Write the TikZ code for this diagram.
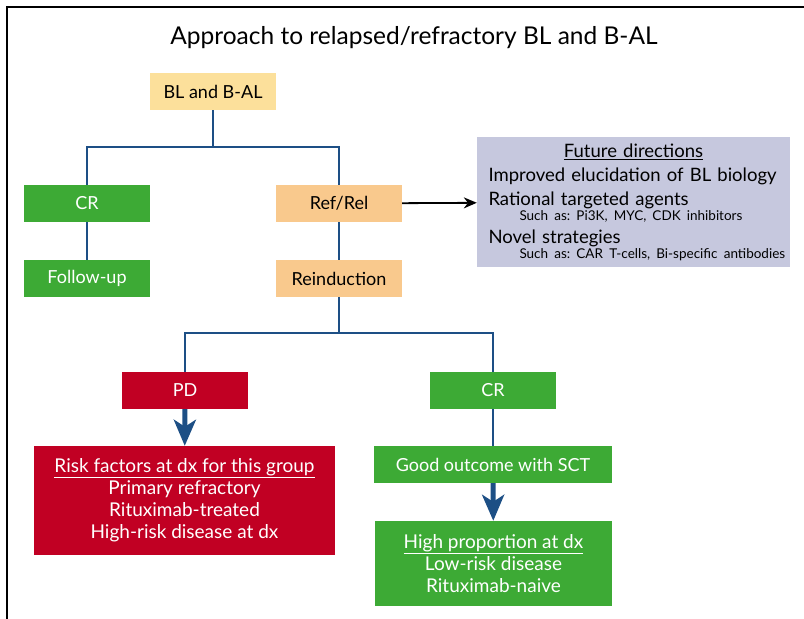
\documentclass[tikz,border=0pt]{standalone}
\usepackage{fontspec}
\setmainfont{Lato}
\usetikzlibrary{arrows.meta,positioning,calc}

\definecolor{startyellow}{HTML}{FCE09B}
\definecolor{relorange}{HTML}{F9C98D}
\definecolor{crgreen}{HTML}{3DAA35}
\definecolor{pdred}{HTML}{C10023}
\definecolor{futurelilac}{HTML}{C6C8DE}
\definecolor{linkblue}{HTML}{1D4F85}

\begin{document}
\frenchspacing
\begin{tikzpicture}[x=1pt, y=-1pt, >=Stealth,
    box/.style={rectangle, minimum height=37pt, minimum width=126pt, inner sep=0pt, font=\fontsize{18}{21}\selectfont},
    link/.style={draw=linkblue, line width=2.2pt},
    bigarrow/.style={draw=linkblue, line width=5pt, -{Stealth[length=26pt, width=22pt, inset=7pt]}}]
        \useasboundingbox (0,0) rectangle (804,619);
        % Frame and title
        \draw[line width=2pt] (7,619) -- (7,7) -- (804,7);
        \node (title) at (414,38) {\fontsize{24.5}{28}\selectfont Approach to relapsed/refractory BL and B-AL};

        % Nodes
        \node (start) [box, fill=startyellow] at (213,91.5) {BL and B-AL};
        \node (cr) [box, fill=crgreen, text=white] at (87,203.5) {CR};
        \node (followup) [box, fill=crgreen, text=white] at (87,278.5) {Follow-up};
        \node (refrel) [box, fill=relorange] at (339,203.5) {Ref/Rel};
        \node (reinduction) [box, fill=relorange] at (339,278.5) {Reinduction};
        \node (future) [rectangle, fill=futurelilac, minimum width=313pt, minimum height=130pt, text width=290pt, inner sep=0pt, align=left, font=\fontsize{18.5}{24}\selectfont] at (633.5,202)
            {\makebox[290pt]{\underline{Future directions}}\\
             Improved elucidation of BL biology\\
             Rational targeted agents\\[-9pt]
             \hspace*{31pt}\mbox{\fontsize{13.5}{15}\selectfont Such as: Pi3K, MYC, CDK inhibitors}\\[-1pt]
             Novel strategies\\[-9pt]
             \hspace*{31pt}\mbox{\fontsize{13.5}{15}\selectfont Such as: CAR T-cells, Bi-specific antibodies}};
        \node (pd) [box, fill=pdred, text=white] at (185,390.5) {PD};
        \node (crtwo) [box, fill=crgreen, text=white] at (493,390.5) {CR};
        \node (risk) [rectangle, fill=pdred, text=white, minimum width=301pt, minimum height=109pt, inner sep=0pt, align=center, font=\fontsize{19}{22}\selectfont] at (184.5,500.5)
            {\underline{Risk factors at dx for this group}\\ Primary refractory\\ Rituximab-treated\\ High-risk disease at dx};
        \node (good) [box, fill=crgreen, text=white, minimum width=238pt] at (493,464.5) {Good outcome with SCT};
        \node (high) [rectangle, fill=crgreen, text=white, minimum width=237pt, minimum height=85pt, inner sep=0pt, align=center, font=\fontsize{19}{22}\selectfont] at (493.5,563.5)
            {\underline{High proportion at dx}\\ Low-risk disease\\ Rituximab-naive};

        % Connectors
        \draw[link] (start.south) -- +(0,37) coordinate (forkone);
        \draw[link] (cr.north) |- (forkone) -| (refrel.north);
        \draw[link] (cr) -- (followup);
        \draw[link] (refrel) -- (reinduction);
        \draw[link] (reinduction.south) -- +(0,36) coordinate (forktwo);
        \draw[link] (pd.north) |- (forktwo) -| (crtwo.north);
        \draw[link] (crtwo) -- (good);

        % Arrows
        \draw[bigarrow] (pd) -- (risk);
        \draw[bigarrow] (good) -- (high);
        \draw[-{Stealth[length=13pt, width=11pt]}, line width=1.8pt] (refrel) -- (future);
    \end{tikzpicture}
\end{document}
